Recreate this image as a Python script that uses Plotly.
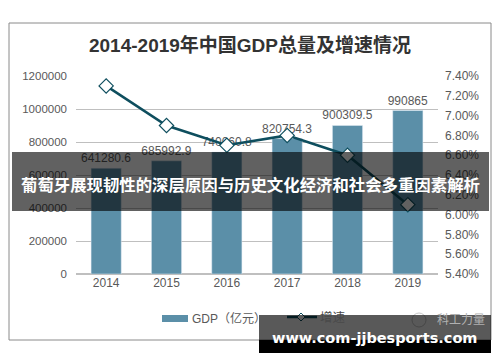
import plotly.graph_objects as go

years = ["2014", "2015", "2016", "2017", "2018", "2019"]
gdp = [641280.6, 685992.9, 740060.8, 820754.3, 900309.5, 990865]
gdp_labels = ["641280.6", "685992.9", "740060.8", "820754.3", "900309.5", "990865"]
growth = [7.3, 6.9, 6.7, 6.8, 6.6, 6.1]
left_ticks = [0, 200000, 400000, 600000, 800000, 1000000, 1200000]
right_ticks = [5.4, 5.6, 5.8, 6.0, 6.2, 6.4, 6.6, 6.8, 7.0, 7.2, 7.4]

NUM_FONT = "Liberation Sans, Arial, sans-serif"
CJK_FONT = "Liberation Sans, Noto Sans CJK SC, sans-serif"
BAR_COLOR = "#5b8fa8"
LINE_COLOR = "#0e4e5e"

# page has an 8px body margin: figure pixel = page pixel - 8
OFF = 8
W, H = 500 - OFF, 362 - OFF

fig = go.Figure()
fig.add_trace(go.Bar(
    x=years, y=gdp, name="GDP（亿元）",
    marker=dict(color=BAR_COLOR),
    text=gdp_labels, textposition="outside", cliponaxis=False,
    constraintext="none",
    textfont=dict(size=12, color="#595959", family=NUM_FONT),
))
fig.add_trace(go.Scatter(
    x=years, y=growth, name="增速", yaxis="y2",
    mode="lines+markers",
    line=dict(color=LINE_COLOR, width=2.5),
    marker=dict(symbol="diamond", size=11, color="white",
                line=dict(color=LINE_COLOR, width=1.2)),
))

fig.update_layout(
    width=W, height=H,
    margin=dict(l=76 - OFF, r=W - (438 - OFF), t=76 - OFF, b=H - (274 - OFF)),
    paper_bgcolor="white", plot_bgcolor="white",
    bargap=0.5,
    showlegend=False,
    title=dict(text="<b>2014-2019年中国GDP总量及增速情况</b>", x=(250 - OFF) / W, xanchor="center",
               y=1 - (45 - OFF) / H, yanchor="middle",
               font=dict(size=19, color="#333333", family=CJK_FONT)),
    xaxis=dict(showgrid=False, showline=False, ticks="",
               tickfont=dict(size=12, color="#595959", family=NUM_FONT)),
    yaxis=dict(range=[0, 1200000], tickvals=left_ticks,
               ticktext=[str(v) for v in left_ticks],
               showgrid=True, gridcolor="#bfbfbf", gridwidth=1,
               zeroline=True, zerolinecolor="#bfbfbf",
               ticklabelstandoff=8,
               tickfont=dict(size=11.5, color="#595959", family=NUM_FONT)),
    yaxis2=dict(range=[5.4, 7.4], overlaying="y", side="right",
                tickvals=right_ticks,
                ticktext=[f"{v:.2f}%" for v in right_ticks],
                showgrid=False, zeroline=False, ticklabelstandoff=6,
                tickfont=dict(size=12, color="#595959", family=NUM_FONT)),
)

def px(x):
    return (x - 76) / 362

def py(y):
    return (274 - y) / 198

dcx, dcy, dh = 301, 317, 4
diamond_path = (f"M {px(dcx - dh)},{py(dcy)} L {px(dcx)},{py(dcy - dh)} "
                f"L {px(dcx + dh)},{py(dcy)} L {px(dcx)},{py(dcy + dh)} Z")

shapes = [
    # chart border
    dict(type="rect", xref="paper", yref="paper", x0=px(9), x1=px(491), y0=py(340), y1=py(23),
         line=dict(color="#8a8a8a", width=1), fillcolor="rgba(0,0,0,0)", layer="below"),
    # legend: bar swatch
    dict(type="rect", xref="paper", yref="paper", x0=px(162), x1=px(188), y0=py(322), y1=py(315),
         line=dict(width=0), fillcolor=BAR_COLOR, layer="above"),
    # legend: line + diamond
    dict(type="line", xref="paper", yref="paper", x0=px(287), x1=px(317), y0=py(317), y1=py(317),
         line=dict(color=LINE_COLOR, width=2.5), layer="above"),
    dict(type="path", xref="paper", yref="paper", path=diamond_path,
         line=dict(color=LINE_COLOR, width=1), fillcolor="white", layer="above"),
    # logo circle of the watermark
    dict(type="circle", xref="paper", yref="paper", x0=px(412), x1=px(426), y0=py(327), y1=py(313),
         line=dict(color="#c8c8c8", width=1), fillcolor="rgba(0,0,0,0)", layer="above"),
    # overlay band
    dict(type="rect", xref="paper", yref="paper", x0=px(12), x1=px(489), y0=py(211), y1=py(152),
         line=dict(width=0), fillcolor="rgba(0,0,0,0.62)", layer="above"),
    # watermark box
    dict(type="rect", xref="paper", yref="paper", x0=px(259), x1=px(491), y0=py(340), y1=py(315),
         line=dict(width=0), fillcolor="rgba(0,0,0,0.65)", layer="above"),
    dict(type="rect", xref="paper", yref="paper", x0=px(259), x1=px(491), y0=py(353), y1=py(340),
         line=dict(width=0), fillcolor="#000000", layer="above"),
]
fig.update_layout(shapes=shapes)

fig.add_annotation(xref="paper", yref="paper", x=px(190), y=py(318), showarrow=False,
                   text="GDP（亿元）", font=dict(size=12, color="#595959", family=CJK_FONT),
                   xanchor="left", yanchor="middle")
fig.add_annotation(xref="paper", yref="paper", x=px(318), y=py(317), showarrow=False,
                   text="增速", font=dict(size=12.5, color="#4a4a4a", family=CJK_FONT),
                   xanchor="left", yanchor="middle")
fig.add_annotation(xref="paper", yref="paper", x=px(435), y=py(320), showarrow=False,
                   text="科工力量", font=dict(size=12, color="#b0b0b0", family=CJK_FONT),
                   xanchor="left", yanchor="middle")
fig.add_annotation(xref="paper", yref="paper", x=px(250), y=py(184), showarrow=False,
                   text="<b>葡萄牙展现韧性的深层原因与历史文化经济和社会多重因素解析</b>",
                   font=dict(size=16.4, color="white", family="Noto Sans CJK SC, sans-serif"),
                   xanchor="center", yanchor="middle")
fig.add_annotation(xref="paper", yref="paper", x=px(374), y=py(338), showarrow=False,
                   text="<b>www.com-jjbesports.com</b>",
                   font=dict(size=14.5, color="white", family="DejaVu Sans, sans-serif"),
                   xanchor="center", yanchor="middle")

fig.write_html("out.html")
